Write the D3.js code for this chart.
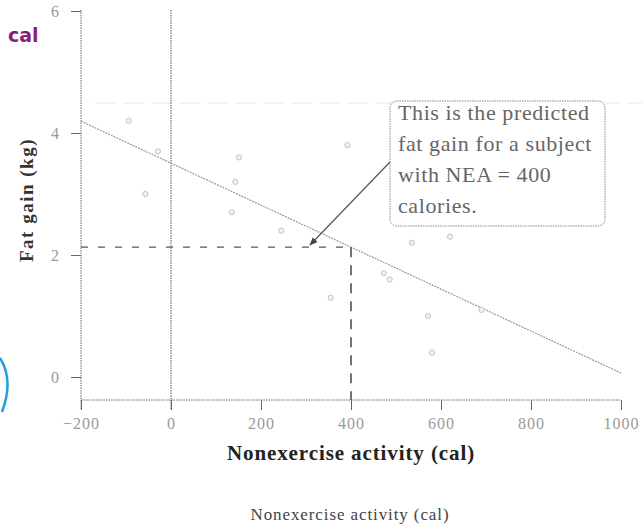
<!DOCTYPE html>
<html>
<head>
<meta charset="utf-8">
<script src="https://cdn.jsdelivr.net/npm/d3@7"></script>
<style>
  body { margin: 0; background: #fff; }
  svg { display: block; }
</style>
</head>
<body>
<div id="chart"></div>
<script>
// nonexercise activity (cal) and fat gain (kg) for 16 subjects
const nea = [-94, -57, -29, 135, 143, 151, 245, 355, 392, 473, 486, 535, 571, 580, 620, 690];
const fatGain = [4.2, 3.0, 3.7, 2.7, 3.2, 3.6, 2.4, 1.3, 3.8, 1.7, 1.6, 2.2, 1.0, 0.4, 2.3, 1.1];
const xTicks = [-200, 0, 200, 400, 600, 800, 1000];
const yTicks = [0, 2, 4, 6];
const intercept = 3.505, slope = -0.00344;
const predictAt = 400;
const noteLines = ["This is the predicted", "fat gain for a subject", "with NEA = 400", "calories."];

const width = 642, height = 527;
const serif = "'Liberation Serif', 'DejaVu Serif', serif";
const svg = d3.select("#chart").append("svg")
  .attr("width", width).attr("height", height)
  .style("font-family", serif);

const x = d3.scaleLinear().domain([-200, 1000]).range([81, 621]);
const y = d3.scaleLinear().domain([-0.377, 6]).range([400, 11]);
const axisColor = "#666";

// faint scan line
svg.append("line")
  .attr("x1", 95).attr("x2", 642).attr("y1", y(4.49)).attr("y2", y(4.49))
  .attr("stroke", "#e8e8e8").attr("stroke-dasharray", "20,8");

// axes
svg.append("line").attr("x1", x(-200)).attr("x2", x(-200)).attr("y1", 10).attr("y2", 410)
  .attr("stroke", axisColor).attr("stroke-dasharray", "1.5,1");
svg.append("line").attr("x1", x(-200)).attr("x2", x(1000)).attr("y1", 400).attr("y2", 400)
  .attr("stroke", axisColor).attr("stroke-dasharray", "1.5,1");
// x = 0 reference line
svg.append("line").attr("x1", x(0)).attr("x2", x(0)).attr("y1", 10).attr("y2", 410)
  .attr("stroke", "#555").attr("stroke-dasharray", "1.5,1");

const gx = svg.append("g").attr("transform", "translate(0,400)")
  .call(d3.axisBottom(x).tickValues(xTicks).tickSize(10).tickPadding(8)
    .tickFormat(d => d < 0 ? "\u2212" + Math.abs(d) : d));
gx.attr("font-family", serif).attr("font-size", 16);
gx.select(".domain").remove();
gx.selectAll("line").attr("stroke", axisColor);
gx.selectAll("text").attr("fill", "#999").style("letter-spacing", "1px");

const gy = svg.append("g").attr("transform", "translate(" + x(-200) + ",0)")
  .call(d3.axisLeft(y).tickValues(yTicks).tickSize(10).tickPadding(12).tickFormat(d3.format("d")));
gy.attr("font-family", serif).attr("font-size", 16);
gy.select(".domain").remove();
gy.selectAll("line").attr("stroke", axisColor);
gy.selectAll("text").attr("fill", "#999");

// regression line
svg.append("line")
  .attr("x1", x(-200)).attr("y1", y(intercept + slope * -200))
  .attr("x2", x(1000)).attr("y2", y(intercept + slope * 1000))
  .attr("stroke", "#999").attr("stroke-width", 1.2).attr("stroke-dasharray", "2,1");

// prediction guides
const yPred = intercept + slope * predictAt;
svg.append("line")
  .attr("x1", x(-200)).attr("x2", x(predictAt)).attr("y1", y(yPred)).attr("y2", y(yPred))
  .attr("stroke", "#555").attr("stroke-width", 1.2).attr("stroke-dasharray", "7,10");
svg.append("line")
  .attr("x1", x(predictAt)).attr("x2", x(predictAt)).attr("y1", y(yPred)).attr("y2", 400)
  .attr("stroke", "#444").attr("stroke-width", 1.5).attr("stroke-dasharray", "10,8");

// points
svg.append("g").selectAll("circle")
  .data(nea.map((d, i) => [d, fatGain[i]]))
  .enter().append("circle")
  .attr("cx", d => x(d[0])).attr("cy", d => y(d[1]))
  .attr("r", 2.6)
  .attr("fill", "#f2f2f2").attr("stroke", "#c4c4c4").attr("stroke-width", 1);

// annotation box
svg.append("rect")
  .attr("x", 390).attr("y", 101).attr("width", 215).attr("height", 125)
  .attr("rx", 7).attr("fill", "#fff")
  .attr("stroke", "#888").attr("stroke-dasharray", "1.5,1");
svg.append("g").selectAll("text")
  .data(noteLines).enter().append("text")
  .attr("x", 398).attr("y", (d, i) => 120 + i * 31)
  .attr("fill", "#666").style("font-size", "22px").style("letter-spacing", "0.6px")
  .text(d => d);

// arrow
svg.append("defs").append("marker")
  .attr("id", "arrow").attr("viewBox", "0 0 10 10").attr("refX", 9).attr("refY", 5)
  .attr("markerWidth", 7).attr("markerHeight", 7).attr("orient", "auto")
  .append("path").attr("d", "M0,1 L10,5 L0,9 Z").attr("fill", "#444");
svg.append("line")
  .attr("x1", 390).attr("y1", 162).attr("x2", 310).attr("y2", 245)
  .attr("stroke", "#555").attr("stroke-width", 1.2).attr("marker-end", "url(#arrow)");

// axis titles
svg.append("text")
  .attr("transform", "translate(33,200) rotate(-90)")
  .attr("text-anchor", "middle").attr("font-weight", "bold")
  .attr("fill", "#333").style("font-size", "19px").style("letter-spacing", "1.5px")
  .text("Fat gain (kg)");
svg.append("text")
  .attr("x", 351).attr("y", 460).attr("text-anchor", "middle")
  .attr("font-weight", "bold").attr("fill", "#222")
  .style("font-size", "21px").style("letter-spacing", "0.9px")
  .text("Nonexercise activity (cal)");
svg.append("text")
  .attr("x", 350).attr("y", 520).attr("text-anchor", "middle")
  .attr("fill", "#444").style("font-size", "17px").style("letter-spacing", "0.9px")
  .text("Nonexercise activity (cal)");

// handwritten notes
svg.append("text")
  .attr("x", 8).attr("y", 42).attr("fill", "#8a1c7c")
  .attr("font-weight", "bold")
  .style("font-family", "'DejaVu Sans', sans-serif").style("font-size", "19px")
  .text("cal");
svg.append("path")
  .attr("d", "M0,358 Q14,380 2,412")
  .attr("fill", "none").attr("stroke", "#1ea0e0").attr("stroke-width", 2.5);
</script>
</body>
</html>
